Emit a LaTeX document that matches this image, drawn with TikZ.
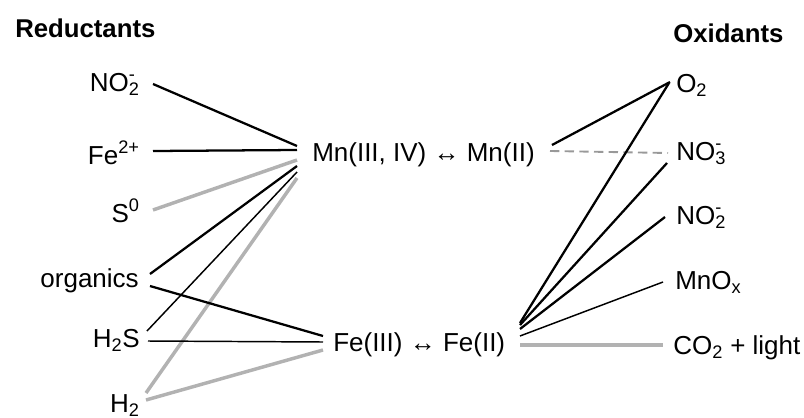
\documentclass[tikz,border=0pt]{standalone}
\usepackage{fontspec}
\setmainfont{Liberation Sans}
\usetikzlibrary{calc}
\newcommand\chemss[2]{\rlap{\textsuperscript{#2}}\textsubscript{#1}}
\begin{document}
\begin{tikzpicture}[x=0.75pt,y=-0.75pt,
  lbl/.style={inner sep=0pt, font=\fontsize{19.5}{21}\selectfont},
  ttl/.style={inner sep=0pt, font=\fontsize{19.3}{22}\selectfont\bfseries},
  blk/.style={line width=1.7pt, black},
  thn/.style={line width=1.1pt, black},
  gry/.style={line width=2.6pt, gray!60},
  dsh/.style={line width=1.4pt, gray!80, dash pattern=on 7pt off 4pt}]
\useasboundingbox (0,0) rectangle (804,418);
% titles
\node[ttl, anchor=base west] (red) at (15,37) {Reductants};
\node[ttl, anchor=base west] (ox) at (673,42) {Oxidants};
% left labels
\node[lbl, anchor=base east] (no2l) at (140,91) {NO\chemss{2}{-}};
\node[lbl, anchor=base east] (fe2) at (140,164) {Fe\textsuperscript{2+}};
\node[lbl, anchor=base east] (s0) at (140,222) {S\textsuperscript{0}};
\node[lbl, anchor=base east] (org) at (139,287) {organics};
\node[lbl, anchor=base east] (h2s) at (140,347) {H\textsubscript{2}S};
\node[lbl, anchor=base east] (h2) at (140,412) {H\textsubscript{2}};
% centre
\node[lbl, anchor=base west] (mn) at (312,161) {Mn(III, IV) ↔ Mn(II)};
\node[lbl, anchor=base west] (fe) at (333,351) {Fe(III) ↔ Fe(II)};
% right labels
\node[lbl, anchor=base west] (o2) at (676,92) {O\textsubscript{2}};
\node[lbl, anchor=base west] (no3) at (676,160) {NO\chemss{3}{-}};
\node[lbl, anchor=base west] (no2r) at (676,224) {NO\chemss{2}{-}};
\node[lbl, anchor=base west] (mnox) at (675,289) {MnO\textsubscript{x}};
\node[lbl, anchor=base west] (co2) at (673,354) {CO\textsubscript{2} + light};
% hub points
\coordinate (mA) at (297,146);
\coordinate (mB) at (297,150);
\coordinate (mC) at (297,160);
\coordinate (mD) at (297,166);
\coordinate (mE) at (297,172);
\coordinate (mF) at (297,178);
\coordinate (mR1) at (552,145);
\coordinate (mR2) at (550,151);
\coordinate (fL1) at (323,336);
\coordinate (fL2) at (323,342);
\coordinate (fL3) at (323,350);
\coordinate (fR1) at (520,323);
\coordinate (fR2) at (520,325);
\coordinate (fR3) at (520,329);
\coordinate (fR4) at (520,336);
\coordinate (fR5) at (520,345);
% reductants -> Mn
\draw[blk] ($(no2l.base east)+(13,-7)$) -- (mA);
\draw[blk] ($(fe2.base east)+(13,-13)$) -- (mB);
\draw[gry] ($(s0.base east)+(13,-12)$) -- (mC);
\draw[blk] ($(org.base east)+(11,-13)$) -- (mD);
\draw[thn] ($(h2s.base east)+(7,-16)$) -- (mE);
\draw[gry] ($(h2.base east)+(6,-19)$) -- (mF);
% reductants -> Fe
\draw[blk] ($(org.base east)+(11,-1)$) -- (fL1);
\draw[thn] ($(h2s.base east)+(8,-6)$) -- (fL2);
\draw[gry] ($(h2.base east)+(6,-12)$) -- (fL3);
% Mn -> oxidants
\draw[blk] (mR1) -- ($(o2.base west)+(-6,-10)$);
\draw[dsh] (mR2) -- ($(no3.base west)+(-8,-7)$);
% Fe -> oxidants
\draw[blk] (fR1) -- ($(o2.base west)+(-7,-9)$);
\draw[blk] (fR2) -- ($(no3.base west)+(-9,3)$);
\draw[blk] (fR3) -- ($(no2r.base west)+(-11,-7)$);
\draw[thn] (fR4) -- ($(mnox.base west)+(-12,-7)$);
\draw[gry] (fR5) -- ($(co2.base west)+(-10,-9)$);
\end{tikzpicture}
\end{document}
